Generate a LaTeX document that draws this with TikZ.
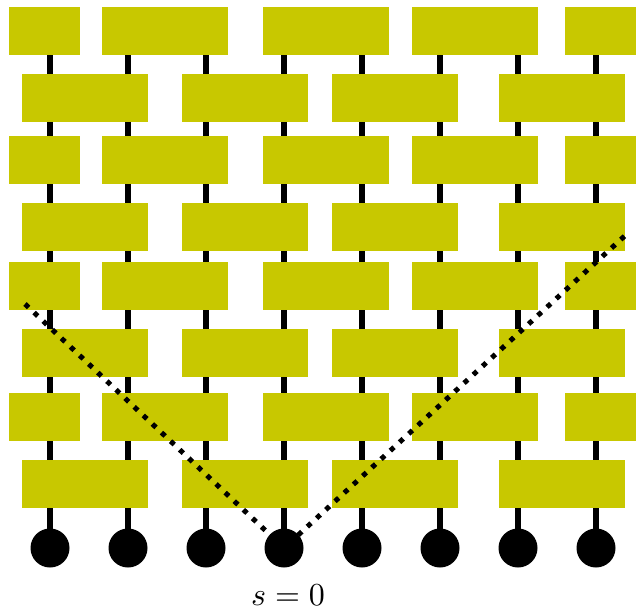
\documentclass[tikz,border=0pt]{standalone}
\usepackage{xcolor}
\definecolor{gateolive}{HTML}{C8C800}
\usetikzlibrary{positioning, calc}

\begin{document}
\begin{tikzpicture}[
        x=1pt, y=-1pt,
        wire/.style={line width=6pt, black},
        gate/.style={fill=gateolive, draw=none},
        site/.style={circle, fill=black, inner sep=0pt, minimum size=39pt},
        cone/.style={line width=5pt, dash pattern=on 5pt off 7.5pt, black}
    ]
    \useasboundingbox (0, 0) rectangle (639, 610);

    % Wires and sites
    \foreach \i in {1,...,8} {
        \coordinate (top\i) at (50 + 78*\i - 78, 10);
        \path (50 + 78*\i - 78, 548) coordinate (q\i-c);
    }

    \foreach \i in {1,...,8} {
        \draw[wire] (top\i) -- (q\i-c);
    }

    % Odd layers of gates
    \foreach \t in {7, 136, 262, 393} {
        \foreach \a/\b in {9/80, 102/228, 263/389, 412/538, 565/636} {
            \fill[gate] (\a, \t) rectangle (\b, \t + 48);
        }
    }

    % Even layers of gates
    \foreach \t in {74, 203, 329, 460} {
        \foreach \a/\b in {22/148, 182/308, 332/458, 499/625} {
            \fill[gate] (\a, \t) rectangle (\b, \t + 48);
        }
    }

    % Light cone
    \coordinate (coneL) at (25, 304);
    \coordinate (coneR) at (629, 232);
    \draw[cone] (coneL) -- (q4-c) -- (coneR);

    % Sites
    \foreach \i in {1,...,8} {
        \node[site] (q\i) at (q\i-c) {};
    }

    \node[scale=3.2, anchor=base, inner sep=0pt] (label) at (288, 605) {$s=0$};

\end{tikzpicture}
\end{document}
